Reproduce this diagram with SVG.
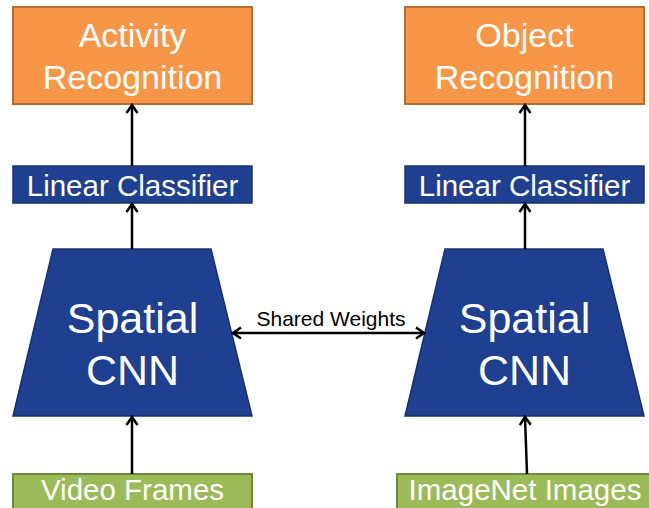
<svg xmlns="http://www.w3.org/2000/svg" width="649" height="508" viewBox="0 0 649 508">
  <defs>
    <style>
      .task { fill: #F79646; stroke: #B66D31; stroke-width: 2; }
      .cls { fill: #1F3F91; stroke: #17306F; stroke-width: 1.5; }
      .cnn { fill: #1F3F91; stroke: #17306F; stroke-width: 1.5; }
      .data { fill: #9BBB59; stroke: #71893F; stroke-width: 2; }
      .lbl { fill: #ffffff; font-family: "Liberation Sans", Arial, sans-serif; text-anchor: middle; }
      .edge { stroke: #000000; stroke-width: 2.5; fill: none; }
      .edge-lbl { fill: #000000; font-family: "Liberation Sans", Arial, sans-serif; font-size: 21px; text-anchor: middle; }
    </style>
    <marker id="head" viewBox="-10 -7 12 14" markerWidth="12" markerHeight="14" refX="0" refY="0" orient="auto-start-reverse" markerUnits="userSpaceOnUse">
      <path d="M -8,-5.5 L 0,0 L -8,5.5" fill="none" stroke="#000000" stroke-width="2.5" stroke-linejoin="miter"/>
    </marker>
  </defs>

  <!-- left column -->
  <g id="activity-recognition">
    <rect class="task" x="13" y="7" width="239" height="97"/>
    <text class="lbl" x="132.5" y="47" font-size="34">Activity</text>
    <text class="lbl" x="132.5" y="89" font-size="34">Recognition</text>
  </g>
  <g id="linear-classifier-left">
    <rect class="cls" x="13" y="166" width="239" height="37"/>
    <text class="lbl" x="132.5" y="196" font-size="29.5">Linear Classifier</text>
  </g>
  <g id="spatial-cnn-left">
    <polygon class="cnn" points="53,249 211,249 252,416 13,416"/>
    <text class="lbl" x="132.5" y="333" font-size="43">Spatial</text>
    <text class="lbl" x="132.5" y="385" font-size="43">CNN</text>
  </g>
  <g id="video-frames">
    <rect class="data" x="13" y="474" width="239" height="40"/>
    <text class="lbl" x="132.5" y="500" font-size="29.5">Video Frames</text>
  </g>

  <!-- right column -->
  <g id="object-recognition">
    <rect class="task" x="405" y="7" width="239" height="97"/>
    <text class="lbl" x="524.5" y="47" font-size="34">Object</text>
    <text class="lbl" x="524.5" y="89" font-size="34">Recognition</text>
  </g>
  <g id="linear-classifier-right">
    <rect class="cls" x="405" y="166" width="239" height="37"/>
    <text class="lbl" x="524.5" y="196" font-size="29.5">Linear Classifier</text>
  </g>
  <g id="spatial-cnn-right">
    <polygon class="cnn" points="445,249 603,249 644,416 405,416"/>
    <text class="lbl" x="524.5" y="333" font-size="43">Spatial</text>
    <text class="lbl" x="524.5" y="385" font-size="43">CNN</text>
  </g>
  <g id="imagenet-images">
    <rect class="data" x="397" y="474" width="256" height="40"/>
    <text class="lbl" x="525" y="500" font-size="29.5">ImageNet Images</text>
  </g>

  <!-- connectors -->
  <g id="connectors">
    <line class="edge" x1="132" y1="166" x2="132" y2="105" marker-end="url(#head)"/>
    <line class="edge" x1="132" y1="249" x2="132" y2="204" marker-end="url(#head)"/>
    <line class="edge" x1="132" y1="474" x2="132" y2="417" marker-end="url(#head)"/>
    <line class="edge" x1="525" y1="166" x2="525" y2="105" marker-end="url(#head)"/>
    <line class="edge" x1="525" y1="249" x2="525" y2="204" marker-end="url(#head)"/>
    <line class="edge" x1="527" y1="474" x2="525" y2="417" marker-end="url(#head)"/>
    <line class="edge" x1="233" y1="333" x2="424" y2="333" marker-start="url(#head)" marker-end="url(#head)"/>
    <text class="edge-lbl" x="331" y="326">Shared Weights</text>
  </g>
</svg>
